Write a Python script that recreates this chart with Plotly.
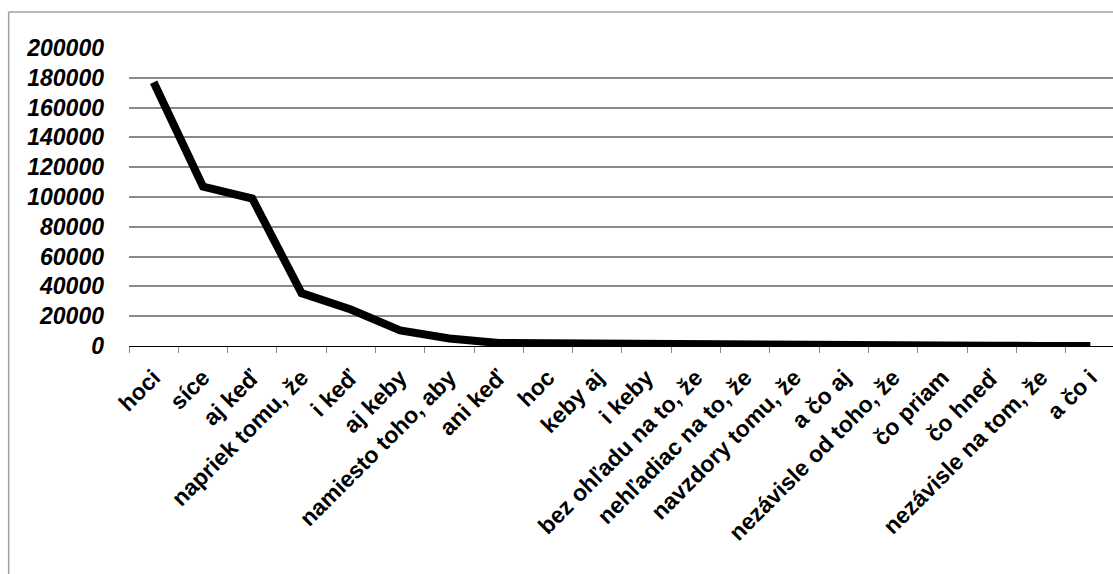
import plotly.graph_objects as go

categories = ["hoci", "síce", "aj keď", "napriek tomu, že", "i keď", "aj keby",
              "namiesto toho, aby", "ani keď", "hoc", "keby aj", "i keby",
              "bez ohľadu na to, že", "nehľadiac na to, že", "navzdory tomu, že",
              "a čo aj", "nezávisle od toho, že", "čo priam", "čo hneď",
              "nezávisle na tom, že", "a čo i"]
values = [177000, 107000, 99000, 35500, 24500, 10500, 5000, 2000, 1800, 1500,
          1000, 700, 500, 300, 200, 150, 120, 100, 80, 50]
y_ticks = [0, 20000, 40000, 60000, 80000, 100000, 120000, 140000, 160000, 180000, 200000]

fig = go.Figure()
fig.add_trace(go.Scatter(
    x=categories, y=values, mode="lines",
    line=dict(color="black", width=8),
    hoverinfo="skip", showlegend=False,
))

fig.update_layout(
    width=1113, height=574,
    margin=dict(l=129, r=0, t=48, b=228),
    paper_bgcolor="white", plot_bgcolor="white",
    font=dict(family="Liberation Sans, Arial, sans-serif", color="black"),
    showlegend=False,
)
fig.update_xaxes(
    type="category", range=[-0.5, 19.46], automargin=False,
    tickangle=-45, tickson="boundaries",
    ticks="outside", ticklen=6, tickcolor="#888888", tickwidth=1,
    tickfont=dict(size=23, weight="bold", color="black"),
    ticklabelstandoff=8,
    showline=True, linecolor="black", linewidth=1,
    showgrid=False,
)
fig.update_yaxes(
    range=[0, 200000], tickvals=y_ticks, automargin=False,
    ticktext=[str(v) for v in y_ticks],
    tickfont=dict(size=23, weight="bold", style="italic", color="black"),
    showgrid=True, gridcolor="#8a8a8a", gridwidth=2,
    zeroline=False, showline=False, ticks="",
    ticklabelstandoff=24,
)
fig.add_shape(type="line", xref="paper", yref="paper",
              x0=-0.1223, x1=-0.1223, y0=-1.0, y1=1.1208,
              line=dict(color="#a0a0a0", width=1.5))
fig.add_shape(type="line", xref="paper", yref="paper",
              x0=-0.1223, x1=1.05, y0=1.1208, y1=1.1208,
              line=dict(color="#a0a0a0", width=1.5))

fig.write_html(
    "out.html",
    config={"displayModeBar": False},
    post_script="document.body.style.margin='0';document.body.style.overflow='hidden';",
)
